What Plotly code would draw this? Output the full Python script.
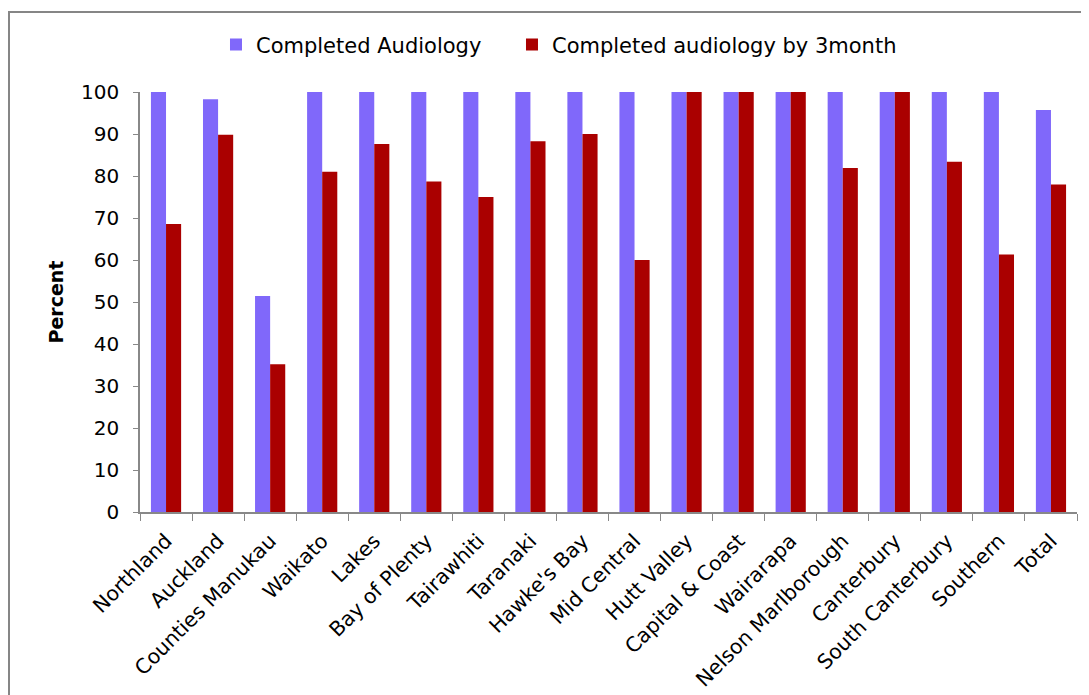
import plotly.graph_objects as go

categories = ["Northland", "Auckland", "Counties Manukau", "Waikato", "Lakes",
              "Bay of Plenty", "Tairawhiti", "Taranaki", "Hawke's Bay", "Mid Central",
              "Hutt Valley", "Capital & Coast", "Wairarapa", "Nelson Marlborough",
              "Canterbury", "South Canterbury", "Southern", "Total"]
completed = [100, 98.3, 51.4, 100, 100, 100, 100, 100, 100, 100,
             100, 100, 100, 100, 100, 100, 100, 95.7]
completed_3m = [68.6, 89.8, 35.2, 81.0, 87.6, 78.7, 75.0, 88.3, 90.0, 60.0,
                100, 100, 100, 81.9, 100, 83.4, 61.3, 78.0]
yticks = [0, 10, 20, 30, 40, 50, 60, 70, 80, 90, 100]

FONT = "DejaVu Sans"

fig = go.Figure()
fig.add_trace(go.Bar(x=categories, y=completed, name="Completed Audiology",
                     legend="legend", showlegend=True,
                     marker=dict(color="#8068FA", line=dict(width=0))))
fig.add_trace(go.Bar(x=categories, y=completed_3m, name="Completed audiology by 3month",
                     legend="legend2", showlegend=True,
                     marker=dict(color="#AA0000", line=dict(width=0))))

legend_style = dict(orientation="h", xanchor="left", y=1.112, yanchor="middle",
                    font=dict(size=21), itemwidth=30, bgcolor="rgba(0,0,0,0)",
                    visible=True)

fig.update_layout(
    width=1089, height=695,
    paper_bgcolor="white", plot_bgcolor="white",
    showlegend=True,
    margin=dict(l=132, r=20, t=84, b=191, autoexpand=False),
    barmode="group", bargap=0.42, bargroupgap=0,
    font=dict(family=FONT, size=20, color="black"),
    legend=dict(x=0.0811, **legend_style),
    legend2=dict(x=0.0811 + 296 / 937, **legend_style),
    xaxis=dict(showline=True, linecolor="#888888", linewidth=1.5, automargin=False,
               ticks="outside", ticklen=7, tickcolor="#888888", tickson="boundaries",
               tickangle=-45, tickfont=dict(size=20.5), showgrid=False, zeroline=False,
               ticklabelstandoff=7),
    yaxis=dict(range=[0, 100], tickvals=yticks, showline=True, linecolor="#888888",
               linewidth=1.5, ticks="outside", ticklen=5, tickcolor="#888888",
               automargin=False, showgrid=False, zeroline=False, tickfont=dict(size=20),
               ticklabelstandoff=10,
               title=dict(text="<b>Percent</b>", font=dict(size=19), standoff=12)),
    shapes=[dict(type="rect", xref="paper", yref="paper",
                 x0=(1 - 132) / 937, x1=1.05, y0=-0.5, y1=(504 - 4) / 420,
                 line=dict(color="#868686", width=2), fillcolor="rgba(0,0,0,0)",
                 layer="below")],
)

fig.write_html("out.html")
